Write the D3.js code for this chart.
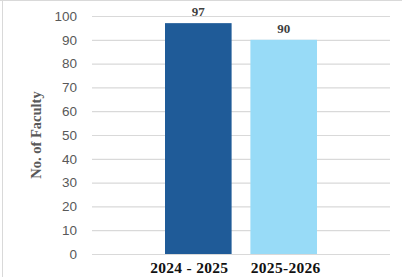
<!DOCTYPE html>
<html lang="en">
<head>
  <meta charset="UTF-8">
  <title>No. of Faculty</title>
  <script src="https://d3js.org/d3.v7.min.js"></script>
  <style>
    body { margin: 0; background: #fff; }
    .tick text { font-family: "Liberation Sans", Arial, sans-serif; font-size: 13.5px; fill: #595959; }
  </style>
</head>
<body>
<script>
// chart data
var years = ["2024 - 2025", "2025-2026"];
var faculty = [97, 90];
var barColors = ["#1f5b98", "#98dbf7"];
var yTicks = [0, 10, 20, 30, 40, 50, 60, 70, 80, 90, 100];

var width = 402,
    height = 277;

var svg = d3.select("body").append("svg")
    .attr("width", width)
    .attr("height", height);

// thin frame on top and left edges
svg.append("line").attr("x1", 0).attr("x2", width).attr("y1", 0.5).attr("y2", 0.5)
    .attr("stroke", "#d9d9d9");
svg.append("line").attr("x1", 2.5).attr("x2", 2.5).attr("y1", 0).attr("y2", height)
    .attr("stroke", "#d9d9d9");

var y = d3.scaleLinear().domain([0, 100]).range([254, 16]);
var x = d3.scaleBand().domain(years).range([165, 317]).paddingInner(0.22).paddingOuter(0);

// gridlines + tick labels
var yAxis = svg.append("g")
    .attr("transform", "translate(92,0)")
    .call(d3.axisLeft(y).tickValues(yTicks).tickSize(-298).tickPadding(15));
yAxis.select(".domain").remove();
yAxis.selectAll(".tick line").attr("stroke", "#d9d9d9").attr("stroke-width", 1.2);

// bars
svg.selectAll("rect.bar").data(faculty).enter().append("rect")
    .attr("class", "bar")
    .attr("x", function(d, i) { return x(years[i]); })
    .attr("width", x.bandwidth())
    .attr("y", function(d) { return y(d); })
    .attr("height", function(d) { return y(0) - y(d); })
    .attr("fill", function(d, i) { return barColors[i]; });

// value labels
svg.selectAll("text.val").data(faculty).enter().append("text")
    .attr("class", "val")
    .attr("x", function(d, i) { return x(years[i]) + x.bandwidth() / 2; })
    .attr("y", function(d) { return y(d) - 7; })
    .attr("text-anchor", "middle")
    .attr("font-family", "Liberation Serif, Times New Roman, serif")
    .attr("font-weight", "bold")
    .attr("font-size", "13px")
    .attr("fill", "#404040")
    .text(function(d) { return d; });

// category labels (first one sits a little left of its bar, as in the original)
svg.selectAll("text.cat").data(years).enter().append("text")
    .attr("class", "cat")
    .attr("x", function(d) { return x(d) + x.bandwidth() / 2; })
    .attr("dx", function(d, i) { return i === 0 ? -9 : 2; })
    .attr("y", 273)
    .attr("text-anchor", "middle")
    .attr("font-family", "Liberation Serif, Times New Roman, serif")
    .attr("font-weight", "bold")
    .attr("font-size", "15.5px")
    .attr("letter-spacing", "0.3px")
    .attr("fill", "#111")
    .text(function(d) { return d; });

// y axis title
svg.append("text")
    .attr("transform", "translate(41,135) rotate(-90)")
    .attr("text-anchor", "middle")
    .attr("font-family", "Liberation Serif, Times New Roman, serif")
    .attr("font-weight", "bold")
    .attr("font-size", "14.5px")
    .attr("fill", "#595959")
    .text("No. of Faculty");
</script>
</body>
</html>
